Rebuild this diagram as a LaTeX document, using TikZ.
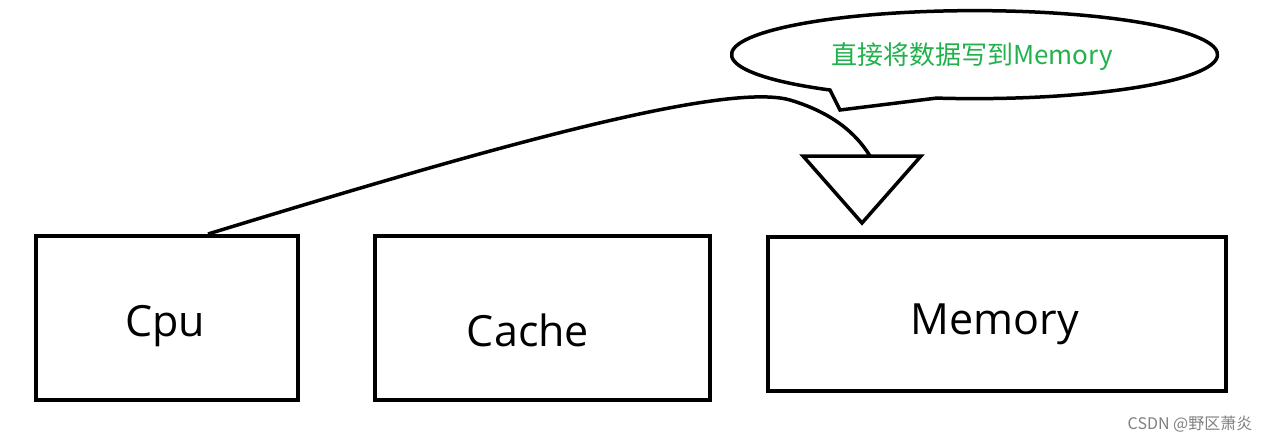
\documentclass[tikz,border=0pt]{standalone}
\usepackage{fontspec}
\setmainfont{Open Sans}
\newfontfamily\cjk{Noto Sans CJK SC}
\begin{document}
\begin{tikzpicture}[x=1pt,y=-1pt,
  box/.style={draw,line width=3.5pt},
  lbl/.style={font=\fontsize{43}{45}\selectfont},
  ln/.style={line width=3.5pt}]
\useasboundingbox[fill=white] (0,0) rectangle (1276,442);
\draw[box] (36,236) rectangle (298,400);
\draw[box] (375,236) rectangle (710,400);
\draw[box] (768,237) rectangle (1226,391);
\node[lbl] (cpu) at (165,326) {Cpu};
\node[lbl] (cache) at (528,330) {Cache};
\node[lbl] (mem) at (995,324) {Memory};
\coordinate (start) at (208,234);
\coordinate (tip) at (870,156);
\draw[ln] (start) .. controls (450,160) and (720,80) .. (790,100) .. controls (840,115) and (860,140) .. (tip);
\draw[ln,line join=miter] (803,156) -- (921,156) -- (862,223) -- cycle;
\draw[ln,fill=white] (830,90) arc[start angle=126.5,end angle=459,x radius=243,y radius=44] -- (840,110) -- cycle;
\node[text={rgb,255:red,34;green,177;blue,76},font=\cjk\fontsize{26}{28}\selectfont] (note) at (972,57) {直接将数据写到Memory};
\node[text=gray,font=\cjk\fontsize{16}{18}\selectfont] (wm) at (1190,424) {CSDN @野区萧炎};
\end{tikzpicture}
\end{document}
